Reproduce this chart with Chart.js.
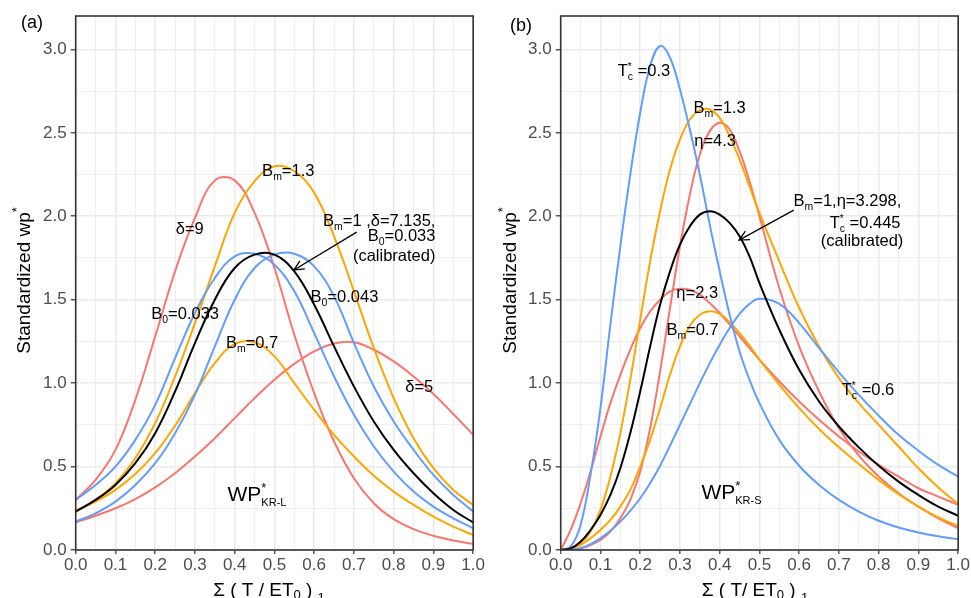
<!DOCTYPE html>
<html>
<head>
<meta charset="utf-8">
<script src="https://cdn.jsdelivr.net/npm/chart.js@4/dist/chart.umd.min.js"></script>
<style>
  html, body { margin: 0; padding: 0; background: #fff; }
  #wrap { position: relative; width: 971px; height: 598px; overflow: hidden; }
  canvas { position: absolute; top: 0; }
</style>
</head>
<body>
<div id="wrap">
  <canvas id="panel-a" width="486" height="598" style="left:0"></canvas>
  <canvas id="panel-b" width="485" height="598" style="left:486px"></canvas>
</div>
<script>
// tick labels
const xTickLabels = ['0.0', '0.1', '0.2', '0.3', '0.4', '0.5', '0.6', '0.7', '0.8', '0.9', '1.0'];
const yTickLabels = ['0.0', '0.5', '1.0', '1.5', '2.0', '2.5', '3.0'];

// panel (a): x positions, Σ(T/ET0)
const xA = [0, 0.05, 0.1, 0.15, 0.2, 0.25, 0.3, 0.35, 0.4, 0.45, 0.5,
  0.55, 0.6, 0.65, 0.7, 0.75, 0.8, 0.85, 0.9, 0.95, 1.0];
const calibA = [0.23, 0.30, 0.39, 0.52, 0.70, 0.95, 1.24, 1.50, 1.69, 1.77, 1.77,
  1.67, 1.47, 1.22, 0.98, 0.77, 0.60, 0.46, 0.34, 0.24, 0.165];
const delta9 = [0.30, 0.42, 0.60, 0.90, 1.28, 1.67, 1.99, 2.215, 2.215, 2.02, 1.69,
  1.29, 0.94, 0.65, 0.43, 0.28, 0.185, 0.125, 0.085, 0.057, 0.037];
const delta5 = [0.165, 0.205, 0.25, 0.305, 0.375, 0.46, 0.56, 0.67, 0.79, 0.91, 1.02,
  1.115, 1.19, 1.238, 1.245, 1.20, 1.13, 1.04, 0.935, 0.815, 0.69];
const bm13A = [0.23, 0.30, 0.40, 0.55, 0.76, 1.04, 1.36, 1.70, 2.02, 2.21, 2.30,
  2.27, 2.14, 1.88, 1.55, 1.21, 0.91, 0.67, 0.49, 0.36, 0.27];
const bm07A = [0.235, 0.29, 0.36, 0.455, 0.58, 0.745, 0.94, 1.12, 1.235, 1.245, 1.16,
  1.00, 0.84, 0.69, 0.56, 0.445, 0.35, 0.27, 0.20, 0.14, 0.09];
const b0Left = [0.30, 0.39, 0.50, 0.66, 0.87, 1.15, 1.42, 1.63, 1.76, 1.775, 1.71,
  1.55, 1.30, 1.04, 0.81, 0.62, 0.47, 0.35, 0.26, 0.19, 0.13];
const b0Right = [0.17, 0.22, 0.29, 0.39, 0.52, 0.70, 0.93, 1.22, 1.50, 1.69, 1.77,
  1.775, 1.70, 1.52, 1.24, 0.98, 0.77, 0.60, 0.45, 0.33, 0.23];

// panel (b)
const xB = [0, 0.025, 0.05, 0.075, 0.1, 0.125, 0.15, 0.175, 0.2, 0.225, 0.25,
  0.275, 0.3, 0.325, 0.35, 0.375, 0.4, 0.425, 0.45, 0.475, 0.5,
  0.55, 0.6, 0.65, 0.7, 0.75, 0.8, 0.85, 0.9, 0.95, 1.0];
const calibB = [0, 0.01, 0.05, 0.12, 0.21, 0.33, 0.49, 0.70, 0.95, 1.22, 1.47,
  1.67, 1.83, 1.94, 2.01, 2.03, 2.01, 1.96, 1.88, 1.76, 1.60,
  1.32, 1.08, 0.89, 0.74, 0.615, 0.505, 0.41, 0.33, 0.26, 0.205];
const tc03 = [0, 0.02, 0.15, 0.45, 0.85, 1.35, 1.82, 2.25, 2.62, 2.90, 3.02,
  2.95, 2.76, 2.52, 2.25, 1.95, 1.67, 1.41, 1.19, 1.02, 0.88,
  0.66, 0.505, 0.39, 0.30, 0.23, 0.175, 0.135, 0.105, 0.082, 0.064];
const tc06 = [0, 0.002, 0.01, 0.035, 0.07, 0.115, 0.17, 0.235, 0.31, 0.40, 0.505,
  0.625, 0.75, 0.875, 1.00, 1.12, 1.23, 1.33, 1.415, 1.475, 1.505,
  1.475, 1.36, 1.21, 1.065, 0.93, 0.805, 0.69, 0.595, 0.51, 0.44];
const bm13B = [0, 0.005, 0.04, 0.11, 0.24, 0.44, 0.70, 1.02, 1.38, 1.73, 2.03,
  2.28, 2.46, 2.58, 2.635, 2.64, 2.59, 2.48, 2.34, 2.18, 2.02,
  1.73, 1.45, 1.22, 1.03, 0.88, 0.75, 0.62, 0.49, 0.375, 0.275];
const bm07B = [0, 0.005, 0.03, 0.07, 0.12, 0.18, 0.26, 0.36, 0.50, 0.66, 0.85,
  1.05, 1.22, 1.345, 1.41, 1.43, 1.415, 1.365, 1.30, 1.225, 1.14,
  0.99, 0.85, 0.725, 0.615, 0.515, 0.42, 0.335, 0.26, 0.195, 0.145];
const eta43 = [0, 0.002, 0.01, 0.03, 0.06, 0.11, 0.19, 0.30, 0.47, 0.73, 1.07,
  1.45, 1.82, 2.13, 2.37, 2.51, 2.56, 2.52, 2.39, 2.21, 2.00,
  1.57, 1.22, 0.95, 0.73, 0.565, 0.44, 0.34, 0.26, 0.19, 0.13];
const eta23 = [0, 0.12, 0.28, 0.47, 0.68, 0.88, 1.05, 1.20, 1.33, 1.43, 1.50,
  1.55, 1.565, 1.56, 1.53, 1.48, 1.42, 1.35, 1.28, 1.21, 1.14,
  1.01, 0.89, 0.78, 0.68, 0.59, 0.51, 0.44, 0.37, 0.32, 0.27];

const RED = '#F8766D', ORANGE = '#FFA500', BLUE = '#619CFF', BLACK = '#000000';
const FONT = '"Liberation Sans", Arial, Helvetica, sans-serif';

const xMajor = xTickLabels.map(Number);
const yMajor = yTickLabels.map(Number);
const xAll = [];
xMajor.forEach((v, i) => { xAll.push(v); if (i < xMajor.length - 1) xAll.push((v + xMajor[i + 1]) / 2); });
const yAll = [];
yMajor.forEach((v, i) => { yAll.push(v); if (i < yMajor.length - 1) yAll.push((v + yMajor[i + 1]) / 2); });

const near = (list, v) => list.findIndex((m) => Math.abs(m - v) < 1e-6);

function line(xs, ys, color) {
  return {
    data: ys.map((y, i) => ({ x: xs[i], y: y })),
    borderColor: color,
    borderWidth: 2,
    pointRadius: 0,
    tension: 0.4,
    fill: false,
  };
}

// rich text pieces
const N = (t, size = 16.5) => ({ t, size });
const Sb = (t, size = 10.5, dy = 4) => ({ t, size, dy });
const Sp = (t, size = 11, dy = -7) => ({ t, size, dy, adv: false });

function drawRich(ctx, x, y, parts, align) {
  let total = 0;
  parts.forEach((p) => {
    ctx.font = p.size + 'px ' + FONT;
    p.w = ctx.measureText(p.t).width;
    if (p.adv !== false) total += p.w;
  });
  let cx = align === 'right' ? x - total : align === 'center' ? x - total / 2 : x;
  parts.forEach((p) => {
    ctx.font = p.size + 'px ' + FONT;
    ctx.fillText(p.t, cx, y + (p.dy || 0));
    if (p.adv !== false) cx += p.w;
  });
}

function arrow(ctx, x1, y1, x2, y2) {
  const a = Math.atan2(y2 - y1, x2 - x1);
  const len = 11, spread = 0.45;
  ctx.beginPath();
  ctx.moveTo(x1, y1);
  ctx.lineTo(x2, y2);
  ctx.moveTo(x2 - len * Math.cos(a - spread), y2 - len * Math.sin(a - spread));
  ctx.lineTo(x2, y2);
  ctx.lineTo(x2 - len * Math.cos(a + spread), y2 - len * Math.sin(a + spread));
  ctx.stroke();
}

const decorate = {
  id: 'decorate',
  afterDraw(chart, args, opts) {
    const ctx = chart.ctx;
    const area = chart.chartArea;
    const sx = chart.scales.x, sy = chart.scales.y;
    ctx.save();
    // panel frame
    ctx.strokeStyle = '#333333';
    ctx.lineWidth = 1.6;
    ctx.strokeRect(area.left, area.top, area.right - area.left, area.bottom - area.top);

    ctx.fillStyle = '#000';
    ctx.textBaseline = 'alphabetic';
    opts.notes.forEach((n) => {
      drawRich(ctx, sx.getPixelForValue(n.x), sy.getPixelForValue(n.y) + 6, n.parts, n.align);
    });
    ctx.strokeStyle = '#000';
    ctx.lineWidth = 1.3;
    const ar = opts.arrow;
    arrow(ctx, sx.getPixelForValue(ar[0]), sy.getPixelForValue(ar[1]),
      sx.getPixelForValue(ar[2]), sy.getPixelForValue(ar[3]));

    // panel letter
    ctx.font = '18px ' + FONT;
    ctx.fillText(opts.letter[0], opts.letter[1], opts.letter[2]);

    // x axis title
    drawRich(ctx, opts.xTitleX, 596, opts.xTitle, 'center');

    // y axis title
    ctx.translate(29.5, (area.top + area.bottom) / 2);
    ctx.rotate(-Math.PI / 2);
    drawRich(ctx, 0, 0, [N('Standardized wp', 19), Sp('*', 13, -9)], 'center');
    ctx.restore();
  },
};

function makePanel(id, yWidth, datasets, deco) {
  const isMajorX = (v) => near(xMajor, v) >= 0;
  const isMajorY = (v) => near(yMajor, v) >= 0;
  return new Chart(document.getElementById(id), {
    type: 'line',
    data: { datasets },
    plugins: [decorate],
    options: {
      responsive: false,
      animation: false,
      devicePixelRatio: 1,
      layout: { padding: { top: 16, right: 11, left: 0, bottom: 0 } },
      plugins: { legend: { display: false }, tooltip: { enabled: false }, decorate: deco },
      scales: {
        x: {
          type: 'linear',
          min: 0,
          max: 1,
          afterBuildTicks: (axis) => { axis.ticks = xAll.map((v) => ({ value: v })); },
          afterFit: (scale) => { scale.height = 48; },
          ticks: {
            autoSkip: false,
            maxRotation: 0,
            minRotation: 0,
            padding: 1,
            color: '#4D4D4D',
            font: { size: 17, family: FONT },
            callback: (v) => { const i = near(xMajor, v); return i >= 0 ? xTickLabels[i] : ''; },
          },
          grid: {
            color: '#EBEBEB',
            lineWidth: (c) => (c.tick && isMajorX(c.tick.value) ? 1.6 : 0.8),
            tickLength: 4,
            tickColor: (c) => (c.tick && isMajorX(c.tick.value) ? '#333333' : 'rgba(0,0,0,0)'),
            tickWidth: 1.2,
          },
          border: { display: false },
        },
        y: {
          type: 'linear',
          min: 0,
          max: 3.2,
          afterBuildTicks: (axis) => { axis.ticks = yAll.map((v) => ({ value: v })); },
          afterFit: (scale) => { scale.width = yWidth; },
          ticks: {
            autoSkip: false,
            padding: 4,
            color: '#4D4D4D',
            font: { size: 17, family: FONT },
            callback: (v) => { const i = near(yMajor, v); return i >= 0 ? yTickLabels[i] : ''; },
          },
          grid: {
            color: '#EBEBEB',
            lineWidth: (c) => (c.tick && isMajorY(c.tick.value) ? 1.6 : 0.8),
            tickLength: 5,
            tickColor: (c) => (c.tick && isMajorY(c.tick.value) ? '#333333' : 'rgba(0,0,0,0)'),
            tickWidth: 1.2,
          },
          border: { display: false },
        },
      },
    },
  });
}

// first dataset is drawn on top
makePanel('panel-a', 75.7, [
  line(xA, calibA, BLACK),
  line(xA, b0Left, BLUE),
  line(xA, b0Right, BLUE),
  line(xA, bm13A, ORANGE),
  line(xA, bm07A, ORANGE),
  line(xA, delta9, RED),
  line(xA, delta5, RED),
], {
  letter: ['(a)', 21, 28],
  xTitleX: 269,
  xTitle: [N('Σ ( T / ET', 19), Sb('0', 13, 3), N(' ) ', 19), Sb('1', 13, 6)],
  arrow: [0.707, 1.905, 0.549, 1.678],
  notes: [
    { x: 0.287, y: 1.93, align: 'center', parts: [N('δ=9')] },
    { x: 0.469, y: 2.28, align: 'left', parts: [N('B'), Sb('m'), N('=1.3')] },
    { x: 0.905, y: 1.977, align: 'right', parts: [N('B'), Sb('m'), N('=1 ,δ=7.135,')] },
    { x: 0.905, y: 1.887, align: 'right', parts: [N('B'), Sb('0'), N('=0.033')] },
    { x: 0.905, y: 1.765, align: 'right', parts: [N('(calibrated)')] },
    { x: 0.591, y: 1.52, align: 'left', parts: [N('B'), Sb('0'), N('=0.043')] },
    { x: 0.19, y: 1.42, align: 'left', parts: [N('B'), Sb('0'), N('=0.033')] },
    { x: 0.378, y: 1.249, align: 'left', parts: [N('B'), Sb('m'), N('=0.7')] },
    { x: 0.829, y: 0.983, align: 'left', parts: [N('δ=5')] },
    { x: 0.382, y: 0.33, align: 'left', parts: [N('WP', 21), Sp('*', 13, -9), Sb('KR-L', 11, 5)] },
  ],
});

makePanel('panel-b', 74.7, [
  line(xB, calibB, BLACK),
  line(xB, tc03, BLUE),
  line(xB, tc06, BLUE),
  line(xB, bm13B, ORANGE),
  line(xB, bm07B, ORANGE),
  line(xB, eta43, RED),
  line(xB, eta23, RED),
], {
  letter: ['(b)', 24, 31],
  xTitleX: 269,
  xTitle: [N('Σ ( T/ ET', 19), Sb('0', 13, 3), N(' ) ', 19), Sb('1', 13, 6)],
  arrow: [0.5864, 2.037, 0.4487, 1.857],
  notes: [
    { x: 0.1435, y: 2.876, align: 'left', parts: [N('T'), Sp('*', 10, -6), Sb('c'), N(' =0.3')] },
    { x: 0.334, y: 2.657, align: 'left', parts: [N('B'), Sb('m'), N('=1.3')] },
    { x: 0.336, y: 2.457, align: 'left', parts: [N('η=4.3')] },
    { x: 0.857, y: 2.097, align: 'right', parts: [N('B'), Sb('m'), N('=1,η=3.298,')] },
    { x: 0.855, y: 1.968, align: 'right', parts: [N('T'), Sp('*', 10, -6), Sb('c'), N(' =0.445')] },
    { x: 0.862, y: 1.86, align: 'right', parts: [N('(calibrated)')] },
    { x: 0.291, y: 1.549, align: 'left', parts: [N('η=2.3')] },
    { x: 0.266, y: 1.327, align: 'left', parts: [N('B'), Sb('m'), N('=0.7')] },
    { x: 0.707, y: 0.962, align: 'left', parts: [N('T'), Sp('*', 10, -6), Sb('c'), N(' =0.6')] },
    { x: 0.354, y: 0.342, align: 'left', parts: [N('WP', 21), Sp('*', 13, -9), Sb('KR-S', 11, 5)] },
  ],
});
</script>
</body>
</html>
